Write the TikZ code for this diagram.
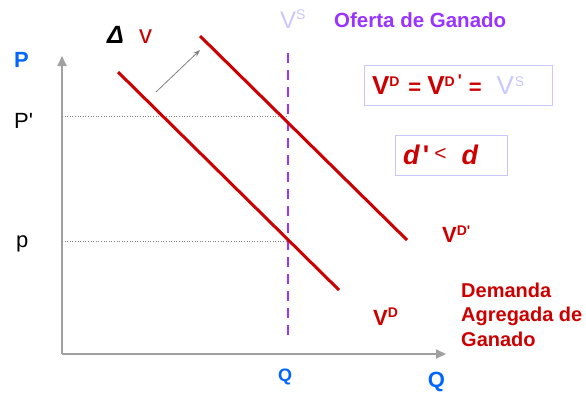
\documentclass[tikz,border=0pt]{standalone}
\usepackage{fontspec}
\setmainfont{Liberation Sans}
\newfontfamily\plainsf{Liberation Sans}
\usetikzlibrary{arrows.meta}
\definecolor{dred}{HTML}{CC0000}
\definecolor{purp}{HTML}{9933FF}
\definecolor{lav}{HTML}{C8C8FF}
\definecolor{qblue}{HTML}{0066FF}
\definecolor{axgray}{HTML}{A0A0A0}
\newcommand{\fs}[1]{\fontsize{#1}{#1}\selectfont}
\newcommand{\sups}[3]{\raisebox{#1pt}{\fs{#2}#3}}
\newcommand{\tick}{{\plainsf\textquotesingle}}
\newcommand{\btick}{{\plainsf\bfseries\textquotesingle}}
\begin{document}
\begin{tikzpicture}[x=1pt,y=-1pt,
  lbl/.style={inner sep=0pt,anchor=base west},
  curve/.style={draw=dred,line width=3pt},
  axis/.style={draw=axgray,line width=1.8pt,-{Triangle[length=10pt,width=9pt]}},
  guide/.style={draw=gray,line width=0.6pt,dotted},
  eqbox/.style={draw=lav,line width=1pt,inner ysep=0pt,inner xsep=8pt,align=left},
  supply/.style={draw=purp,line width=2.6pt,dash pattern=on 10pt off 7pt}]
\useasboundingbox (0,0) rectangle (586,392);
% axes
\coordinate (O) at (62,354);
\coordinate (Ytop) at (62,56);
\coordinate (Xend) at (446,354);
\draw[axis] (O) -- (Ytop);
\draw[axis] (O) -- (Xend);
% supply
\coordinate (S1) at (288,53);
\coordinate (S2) at (288,342);
\draw[supply] (S1) -- (S2);
% guides
\coordinate (Pp) at (62,116);
\coordinate (Ep) at (288,116);
\coordinate (Pl) at (62,241);
\coordinate (El) at (288,241);
\draw[guide] (Pp) -- (Ep);
\draw[guide] (Pl) -- (El);
% demand curves
\coordinate (D1a) at (118,72);
\coordinate (D1b) at (339,290);
\coordinate (D2a) at (200,36);
\coordinate (D2b) at (407,240);
\draw[curve] (D1a) -- (D1b);
\draw[curve] (D2a) -- (D2b);
% shift arrow
\coordinate (A1) at (156,92);
\coordinate (A2) at (200,50);
\draw[draw=gray,line width=0.8pt,-{Stealth[length=7pt,width=5pt]}] (A1) -- (A2);
% labels
\node[lbl,text=qblue,font=\fs{22}\bfseries] (P) at (14,67) {P};
\node[lbl,font=\fs{22}] (Pprime) at (14,128) {P\tick};
\node[lbl,font=\fs{22}] (plow) at (16,247) {p};
\node[lbl,font=\fs{25}\bfseries\itshape] (delta) at (107,43) {Δ};
\node[lbl,text=dred,font=\fs{26}] (v) at (139,43) {v};
\node[lbl,text=lav,font=\fs{24}] (VS) at (280,28) {V\sups{9}{14}{S}};
\node[lbl,text=purp,font=\fs{20.5}\bfseries] (oferta) at (334,27) {Oferta de Ganado};
\node[eqbox,text width=172pt,minimum height=40pt] (box1) at (458,85)
  {\fs{26}\textcolor{dred}{\textbf{V}\sups{8}{14}{\textbf{D}}\hspace{9pt}{\fs{22}\bfseries=}\hspace{6pt}\textbf{V}\sups{8}{14}{\textbf{D}\hspace{3pt}{\fs{17}\btick}}\hspace{7pt}{\fs{22}\bfseries=}}\hspace{15pt}\textcolor{lav}{V\sups{8}{14}{\hspace{1pt}S}}};
\node[eqbox,text width=96pt,minimum height=40pt] (box2) at (451,155)
  {\fs{27}\color{dred}\textbf{\textit{d}}\hspace{3pt}{\bfseries\tick}\hspace{5pt}\sups{4}{21}{<}\hspace{15pt}\textbf{\textit{d}}};
\node[lbl,text=dred,font=\fs{22}\bfseries] (VDp) at (442,242) {V\sups{7}{14}{D\btick}};
\node[lbl,text=dred,font=\fs{22}\bfseries] (VD) at (373,325) {V\sups{8}{14}{D}};
\node[inner sep=0pt,text=dred,anchor=north west,align=left,font=\fontsize{20}{24.5}\selectfont\bfseries] (dem) at (461,282.5) {Demanda\\Agregada de\\Ganado};
\node[inner sep=0pt,anchor=base,text=qblue,font=\fs{18}\bfseries] (Qs) at (285,381) {Q};
\node[inner sep=0pt,anchor=base,text=qblue,font=\fs{22}\bfseries] (Qb) at (436.5,387) {Q};
\end{tikzpicture}
\end{document}
